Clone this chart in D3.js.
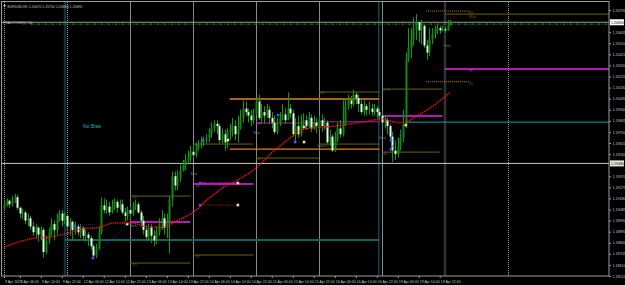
<!DOCTYPE html>
<html lang="en">
<head>
<meta charset="UTF-8">
<title>EURUSD,H1</title>
<script src="https://d3js.org/d3.v7.min.js"></script>
<style>
  html, body { margin: 0; padding: 0; background: #000; overflow: hidden; }
  svg { display: block; }
  text { font-family: "Liberation Sans", Arial, sans-serif; }
</style>
</head>
<body>
<script>
// ---- data (EURUSD H1) ----
const symbolName = "EURUSD,H1";
const firstOpen = 1.1910;
const closes = [
  1.1912,1.1916,1.1913,1.1917,1.1919,1.1910,1.1905,1.1906,1.1899,1.1901,
  1.1894,1.1889,1.1893,1.1887,1.1891,1.1872,1.1882,1.1889,1.1896,1.1891,
  1.1899,1.1905,1.1899,1.1903,1.1894,1.1898,1.1891,1.1894,1.1889,1.1893,
  1.1886,1.1887,1.1884,1.1877,1.1869,1.1875,1.1889,1.1912,1.1908,1.1911,
  1.1906,1.1911,1.1915,1.1910,1.1913,1.1906,1.1903,1.1908,1.1905,1.1911,
  1.1913,1.1906,1.1899,1.1891,1.1885,1.1893,1.1886,1.1882,1.1889,1.1896,
  1.1901,1.1893,1.1898,1.1917,1.1937,1.1929,1.1935,1.1942,1.1946,1.1951,
  1.1953,1.1958,1.1955,1.1961,1.1964,1.1966,1.1968,1.1970,1.1973,1.1978,
  1.1982,1.1980,1.1968,1.1973,1.1966,1.1975,1.1977,1.1980,1.1973,1.1978,
  1.1987,1.1995,1.1992,1.1989,1.1985,1.1990,1.2001,1.1987,1.1992,1.1989,
  1.1994,1.1987,1.1983,1.1975,1.1982,1.1987,1.1990,1.1985,1.1995,1.1991,
  1.1973,1.1980,1.1973,1.1982,1.1985,1.1980,1.1987,1.1978,1.1983,1.1980,
  1.1985,1.1980,1.1983,1.1966,1.1971,1.1959,1.1968,1.1978,1.1973,1.1982,
  1.1997,1.2002,1.1999,1.2007,1.2004,1.1999,1.1992,1.1997,1.1994,1.1995,
  1.1992,1.1995,1.1992,1.1989,1.1983,1.1985,1.1980,1.1971,1.1959,1.1956,
  1.1963,1.1970,1.1982,1.2037,1.2047,1.2054,1.2062,1.2069,1.2062,1.2066,
  1.2049,1.2043,1.2054,1.2059,1.2062,1.2064,1.2062,1.2063,1.2062,1.2067,
  1.2069
];
const highs = [
  1.1917,1.1918,1.1917,1.1920,1.1922,1.1921,1.1911,1.1909,1.1907,1.1905,
  1.1903,1.1898,1.1896,1.1894,1.1894,1.1893,1.1886,1.1893,1.1901,1.1899,
  1.1905,1.1908,1.1908,1.1906,1.1905,1.1901,1.1899,1.1898,1.1896,1.1896,
  1.1894,1.1891,1.1889,1.1886,1.1879,1.1879,1.1894,1.1919,1.1918,1.1917,
  1.1915,1.1917,1.1918,1.1917,1.1917,1.1917,1.1910,1.1911,1.1911,1.1915,
  1.1917,1.1915,1.1908,1.1903,1.1895,1.1896,1.1896,1.1891,1.1894,1.1901,
  1.1908,1.1905,1.1905,1.1920,1.1941,1.1941,1.1942,1.1947,1.1951,1.1956,
  1.1959,1.1963,1.1964,1.1966,1.1968,1.1971,1.1971,1.1973,1.1978,1.1983,
  1.1985,1.1985,1.1982,1.1978,1.1977,1.1978,1.1982,1.1987,1.1985,1.1989,
  1.1994,1.2002,1.2001,1.1995,1.1994,1.1995,1.2004,1.2007,1.1999,1.1997,
  1.1999,1.1997,1.1992,1.1989,1.1987,1.1992,1.1999,1.1995,1.2009,1.1999,
  1.1994,1.1987,1.1989,1.1990,1.1991,1.1989,1.1992,1.1990,1.1989,1.1987,
  1.1989,1.1990,1.1987,1.1985,1.1977,1.1973,1.1975,1.1983,1.1985,1.2002,
  1.2004,1.2007,1.2006,1.2011,1.2009,1.2007,1.2002,1.2002,1.1999,1.2001,
  1.1999,1.1999,1.1997,1.1995,1.1990,1.1989,1.1987,1.1982,1.1975,1.1968,
  1.1970,1.1977,1.1994,1.2043,1.2064,1.2064,1.2073,1.2076,1.2069,1.2071,
  1.2067,1.2054,1.2064,1.2064,1.2066,1.2067,1.2066,1.2066,1.2065,1.2071,
  1.2071
];
const lows = [
  1.1907,1.1911,1.1910,1.1911,1.1914,1.1908,1.1901,1.1900,1.1896,1.1894,
  1.1891,1.1886,1.1884,1.1881,1.1882,1.1867,1.1870,1.1879,1.1886,1.1882,
  1.1887,1.1898,1.1894,1.1896,1.1891,1.1886,1.1882,1.1887,1.1886,1.1884,
  1.1882,1.1881,1.1877,1.1874,1.1866,1.1867,1.1874,1.1887,1.1905,1.1905,
  1.1903,1.1905,1.1908,1.1906,1.1908,1.1904,1.1898,1.1899,1.1899,1.1903,
  1.1908,1.1905,1.1894,1.1887,1.1882,1.1882,1.1880,1.1877,1.1879,1.1886,
  1.1891,1.1887,1.1884,1.1871,1.1911,1.1925,1.1925,1.1932,1.1941,1.1942,
  1.1947,1.1949,1.1953,1.1953,1.1959,1.1961,1.1963,1.1965,1.1966,1.1970,
  1.1975,1.1973,1.1965,1.1965,1.1959,1.1961,1.1968,1.1971,1.1968,1.1966,
  1.1977,1.1983,1.1989,1.1983,1.1980,1.1982,1.1992,1.1985,1.1983,1.1982,
  1.1987,1.1982,1.1978,1.1973,1.1973,1.1980,1.1985,1.1982,1.1990,1.1987,
  1.1971,1.1966,1.1970,1.1971,1.1978,1.1977,1.1978,1.1975,1.1977,1.1974,
  1.1977,1.1975,1.1977,1.1965,1.1963,1.1958,1.1958,1.1966,1.1970,1.1971,
  1.1980,1.1994,1.1995,1.1997,1.1999,1.1992,1.1990,1.1989,1.1989,1.1990,
  1.1989,1.1989,1.1987,1.1985,1.1982,1.1978,1.1973,1.1968,1.1949,1.1951,
  1.1953,1.1959,1.1966,1.1978,1.2035,1.2038,1.2049,1.2054,1.2052,1.2050,
  1.2047,1.2037,1.2040,1.2050,1.2055,1.2059,1.2059,1.2061,1.2060,1.2062,
  1.2066
];

// moving average (red dotted), read at every 6th bar
const maBars   = [0,6,12,18,24,30,36,42,48,54,60,66,72,78,84,90,96,102,108,114,120,126,132,138,144,150,153,156,162,170];
const maValues = [1.1876,1.1881,1.1884,1.1885,1.1888,1.1892,1.1893,1.1897,1.1897,1.1894,1.1893,1.1899,1.1906,1.1918,
                  1.1928,1.1935,1.1944,1.1957,1.1968,1.1977,1.1979,1.1980,1.1982,1.1984,1.1986,1.1983,1.1983,1.1987,1.1995,1.2009];

// price axis ticks
const priceTicks = [1.20795,1.20700,1.20605,1.20510,1.20415,1.20320,1.20225,1.20130,1.20035,1.19940,1.19845,1.19750,
                    1.19655,1.19560,1.19465,1.19370,1.19275,1.19180,1.19085,1.18990,1.18895,1.18800,1.18705,1.18610,1.18515];

// time axis labels
const timeBars = [0,6,14,22,30,38,46,54,62,70,78,86,94,102,110,118,126,134,142,150,158,166];
const timeLabels = ["9 Apr 2021","9 Apr 06:00","9 Apr 14:00","9 Apr 22:00","12 Apr 06:00","12 Apr 14:00","12 Apr 22:00",
  "13 Apr 06:00","13 Apr 14:00","13 Apr 22:00","14 Apr 06:00","14 Apr 14:00","14 Apr 22:00","15 Apr 06:00","15 Apr 14:00",
  "15 Apr 22:00","16 Apr 06:00","16 Apr 14:00","16 Apr 22:00","19 Apr 06:00","19 Apr 14:00","19 Apr 22:00"];

// day separators (bar index of 00:00)
const dayBars = [0,24,48,72,96,120,144,168,192];

// indicator levels: kind, price, from bar, to bar
const levelKind  = ["bias","biasNew","mid","mid","mid","mid","midOld","midOld","rangeHi","rangeLo",
                    "piv","piv","piv","piv","piv","piv","piv","piv","piv","piv","proj","proj","fractal"];
const levelPrice = [1.18823,1.19834,1.18978,1.19303,1.19886,1.20289,1.19826,1.19837,1.20032,1.19603,
                    1.20760,1.20117,1.20092,1.19646,1.19646,1.19526,1.19200,1.18626,1.18695,1.19577,1.20786,1.20180,1.20674];
const levelFrom  = [23.2,152.8,48,72,144,168,96,120,86,86, 168,144,120,72,120,96,48,48,72,144, 160.8,160.8,10];
const levelTo    = [142.9,231,71,95,167,231,120,143,143,143, 231,167,143,95,143,120,71,71,95,166, 177.5,177.5,231];
const sessionLine = 1.19480;

// small tags next to levels
const tagBars   = [177,177,177,177,167.5,144.5,120.5,96.5,95,96.5,119.5,122,96.5,72.5,71,73,73,49,48,49,143,144.5];
const tagPrices = [1.20769,1.20739,1.20272,1.20160,1.20486,1.20109,1.20083,1.20014,1.19740,1.19817,1.19629,1.19629,
                   1.19517,1.19629,1.19389,1.19277,1.18678,1.19183,1.18943,1.18609,1.19697,1.19560];
const tagText   = ["R2","Wkly","PP","S1","Free","D Hi","R1","R1","Bias","PP","Bias","S1","S1","R1","Bias","PP","S1","R1","Bias","S1","Bias","S1"];
const tagKind   = ["piv","piv","mid","piv","bias","piv","piv","piv","bias","mid","bias","piv","piv","piv","bias","piv","piv","piv","bias","piv","bias","piv"];

// swing markers
const blueBars   = [74.7,74.7,26.7,33.9,75.8,104.4,110.9,147.4,147.4];
const bluePrices = [1.19312,1.19123,1.18943,1.18669,1.19680,1.19894,1.19663,1.19680,1.19603];
const sandBars   = [89.1,89.1,85.3,114.3,114.3,153.1,46.9];
const sandPrices = [1.19312,1.19123,1.19680,1.19792,1.19663,1.19809,1.18960];
const linkFrom   = [[74.7,1.19312],[74.7,1.19123],[33.9,1.18669],[147.4,1.19603],[26.7,1.18943]];
const linkTo     = [[89.1,1.19312],[89.1,1.19123],[46.9,1.18960],[153.1,1.19809],[33.9,1.18960]];
const linkKind   = ["mid","red","zig","zig","zig"];

// ---- styles ----
const STYLE = {
  bias:    {c: "#0f6464", w: 2},
  biasNew: {c: "#1aa3a3", w: 1},
  mid:     {c: "#f020f0", w: 1.5},
  midOld:  {c: "#a424a4", w: 1},
  rangeHi: {c: "#a8601a", w: 2},
  rangeLo: {c: "#e0801e", w: 1.2},
  piv:     {c: "#6e600c", w: 1},
  proj:    {c: "#b87420", w: 1, d: "1,1"},
  fractal: {c: "#14a014", w: 1, d: "3,1.5,1,1.5"},
  red:     {c: "#a01010", w: 1, d: "1,1"},
  zig:     {c: "#2020b0", w: 1, d: "1,1"}
};
const TEXT = "#c4c4c4";

const W = 625, H = 285, plotR = 609, plotB = 276;
const svg = d3.select("body").append("svg").attr("width", W).attr("height", H)
  .style("background", "#000");

const x = d3.scaleLinear().domain([0, 230]).range([4, 4 + 230 * 2.625]);
const y = d3.scaleLinear().domain([1.18515, 1.20795]).range([276, 10]);

svg.append("clipPath").attr("id", "plot")
  .append("rect").attr("x", 1).attr("y", 1).attr("width", plotR - 1).attr("height", plotB - 1);
const g = svg.append("g").attr("clip-path", "url(#plot)");

// day separators
g.append("g").selectAll("line").data(dayBars).enter().append("line")
  .attr("x1", d => Math.round(x(d)) + 0.5).attr("x2", d => Math.round(x(d)) + 0.5)
  .attr("y1", 0).attr("y2", plotB)
  .attr("stroke", (d, i) => (i >= 2 && i <= 6) ? "#8a8a8a" : "#9a9a9a")
  .attr("stroke-dasharray", (d, i) => (i >= 2 && i <= 6) ? null : "1,1")
  .attr("stroke-width", 1);
// weekly / session markers
g.append("line").attr("x1", 65).attr("x2", 65).attr("y1", 0).attr("y2", plotB)
  .attr("stroke", "#0e363c").attr("stroke-width", 2.5);
g.append("line").attr("x1", x(142.8)).attr("x2", x(142.8)).attr("y1", 0).attr("y2", plotB)
  .attr("stroke", "#1c6878").attr("stroke-width", 1);
g.append("line").attr("x1", x(168)).attr("x2", x(168)).attr("y1", 0).attr("y2", plotB)
  .attr("stroke", "#2e3434").attr("stroke-width", 2.5);

// levels
const levels = levelKind.map((k, i) => ({k, p: levelPrice[i], a: levelFrom[i], b: levelTo[i]}));
g.append("g").selectAll("line").data(levels).enter().append("line")
  .attr("x1", d => x(d.a)).attr("x2", d => x(d.b))
  .attr("y1", d => y(d.p)).attr("y2", d => y(d.p))
  .attr("stroke", d => STYLE[d.k].c).attr("stroke-width", d => STYLE[d.k].w)
  .attr("stroke-dasharray", d => STYLE[d.k].d || null);

// full width lines: session line and bid
const bid = closes[closes.length - 1];
g.append("line").attr("x1", 0).attr("x2", plotR).attr("y1", y(sessionLine)).attr("y2", y(sessionLine))
  .attr("stroke", "#c8c8c0").attr("stroke-width", 1);
g.append("line").attr("x1", 0).attr("x2", plotR).attr("y1", y(bid)).attr("y2", y(bid))
  .attr("stroke", "#9a9a9a").attr("stroke-width", 1);

// tags
g.append("g").selectAll("text").data(tagText).enter().append("text")
  .attr("x", (d, i) => x(tagBars[i])).attr("y", (d, i) => y(tagPrices[i]) + 1.3)
  .attr("fill", (d, i) => STYLE[tagKind[i]].c === "#0f6464" ? "#2a9a9a" : STYLE[tagKind[i]].c)
  .attr("font-size", 3.4).text(d => d);

g.append("text").attr("x", 83).attr("y", 127.5).attr("fill", "#1fb4b4")
  .attr("font-size", 5.2).text("No Bias");

// candles
const bars = closes.map((c, i) => {
  const o = i ? closes[i - 1] : firstOpen;
  return {i, o, c, h: Math.max(highs[i], o, c), l: Math.min(lows[i], o, c)};
});
const cg = g.append("g");
cg.selectAll("line").data(bars).enter().append("line")
  .attr("x1", d => Math.round(x(d.i)) + 0.5).attr("x2", d => Math.round(x(d.i)) + 0.5)
  .attr("y1", d => y(d.h)).attr("y2", d => y(d.l))
  .attr("stroke", "#129a12").attr("stroke-width", 1);
cg.selectAll("rect").data(bars).enter().append("rect")
  .attr("x", d => Math.round(x(d.i)) - 0.5)
  .attr("width", 2)
  .attr("y", d => y(Math.max(d.o, d.c)))
  .attr("height", d => Math.max(1, Math.abs(y(d.o) - y(d.c))))
  .attr("fill", d => d.c >= d.o ? "#0c8c0c" : "#dcffdc");

// links and markers
g.append("g").selectAll("line").data(linkKind).enter().append("line")
  .attr("x1", (d, i) => x(linkFrom[i][0])).attr("y1", (d, i) => y(linkFrom[i][1]))
  .attr("x2", (d, i) => x(linkTo[i][0])).attr("y2", (d, i) => y(linkTo[i][1]))
  .attr("stroke", d => STYLE[d].c).attr("stroke-width", 1).attr("stroke-dasharray", "1,1");
g.append("g").selectAll("rect").data(blueBars).enter().append("rect")
  .attr("x", d => x(d) - 1.3).attr("y", (d, i) => y(bluePrices[i]) - 1.3)
  .attr("width", 2.6).attr("height", 2.6).attr("fill", "#5050ff");
g.append("g").selectAll("rect").data(sandBars).enter().append("rect")
  .attr("x", d => x(d) - 1.3).attr("y", (d, i) => y(sandPrices[i]) - 1.3)
  .attr("width", 2.6).attr("height", 2.6).attr("fill", "#f0dca0");

// moving average
g.append("path")
  .datum(maBars.map((b, i) => [b, maValues[i]]))
  .attr("d", d3.line().x(d => x(d[0])).y(d => y(d[1])).curve(d3.curveMonotoneX))
  .attr("fill", "none").attr("stroke", "#ee1414").attr("stroke-width", 1.5)
  .attr("stroke-dasharray", "1.3,0.9");

// frame
svg.append("rect").attr("x", 1.5).attr("y", 1.5).attr("width", plotR - 1.5).attr("height", plotB - 1.5)
  .attr("fill", "none").attr("stroke", "#9c9c9c").attr("stroke-width", 1);

// price axis (ticks hidden where a highlighted price box sits)
const boxes = [bid, sessionLine];
const shownTicks = priceTicks.filter(p => boxes.every(b => Math.abs(y(p) - y(b)) > 6));
const ay = svg.append("g").attr("transform", `translate(${plotR},0)`)
  .call(d3.axisRight(y).tickValues(shownTicks).tickSize(2).tickPadding(1.5).tickFormat(d3.format(".5f")));
ay.select(".domain").remove();
ay.selectAll("line").attr("stroke", "#9c9c9c");
ay.selectAll("text").attr("fill", TEXT).attr("font-size", 3.6).attr("font-family", "Liberation Sans, Arial, sans-serif");

// time axis
const ax = svg.append("g").attr("transform", `translate(0,${plotB})`)
  .call(d3.axisBottom(x).tickValues(timeBars).tickSize(2).tickPadding(3).tickFormat((d, i) => timeLabels[i]));
ax.select(".domain").remove();
ax.selectAll("line").attr("stroke", "#9c9c9c");
ax.selectAll("text").attr("fill", TEXT).attr("font-size", 3.5).attr("text-anchor", "start")
  .attr("dx", 0.5).attr("font-family", "Liberation Sans, Arial, sans-serif");

// highlighted price boxes
[[bid, "#ffffff"], [sessionLine, "#e8e8d8"]].forEach(([p, bg]) => {
  const yy = y(p);
  svg.append("rect").attr("x", plotR + 1).attr("y", yy - 3).attr("width", 14).attr("height", 6).attr("fill", bg);
  svg.append("text").attr("x", plotR + 2).attr("y", yy + 1.3).attr("fill", "#000")
    .attr("font-size", 3.6).text(d3.format(".5f")(p));
});

// header
const last = bars[bars.length - 1];
const f5 = d3.format(".5f");
svg.append("path").attr("d", "M3,5 L6,5 L4.5,7.5 Z").attr("fill", TEXT);
svg.append("text").attr("x", 7.5).attr("y", 8.3).attr("fill", TEXT).attr("font-size", 3.5)
  .text(`${symbolName}  ${f5(last.o)} ${f5(last.h)} ${f5(last.l)} ${f5(last.c)}`);
svg.append("text").attr("x", 3).attr("y", 23.5).attr("fill", TEXT).attr("font-size", 3.5)
  .text("FRACTOSH(5) 3.0");
</script>
</body>
</html>
